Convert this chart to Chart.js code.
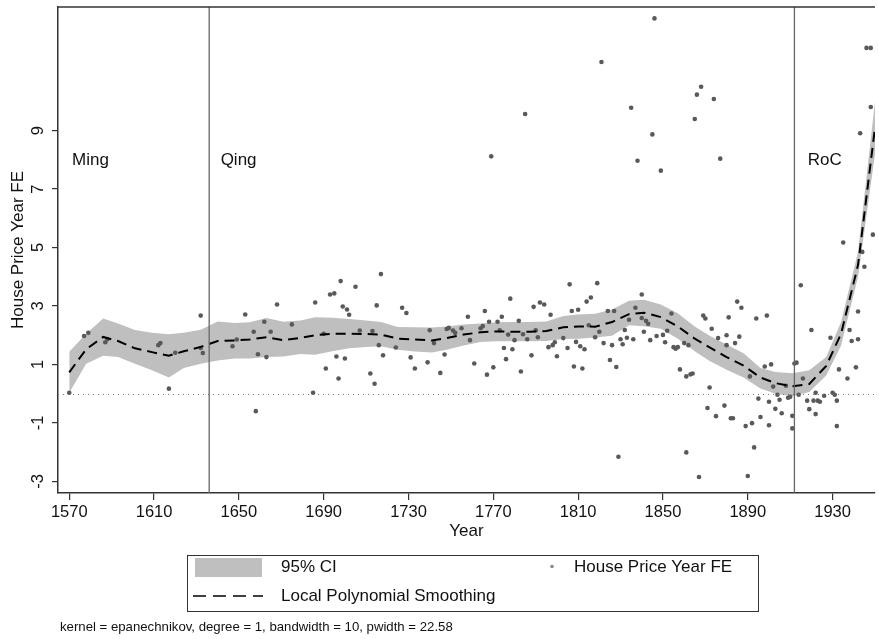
<!DOCTYPE html>
<html>
<head>
<meta charset="utf-8">
<script src="https://cdn.jsdelivr.net/npm/chart.js@4/dist/chart.umd.min.js"></script>
<style>
  html, body { margin: 0; padding: 0; background: #fff; }
  canvas { display: block; }
</style>
</head>
<body>
<canvas id="chart" width="879" height="639"></canvas>
<script>
// tick labels
const xTicks = [1570, 1610, 1650, 1690, 1730, 1770, 1810, 1850, 1890, 1930];
const yTicks = [-3, -1, 1, 3, 5, 7, 9];

// dynasty boundaries and labels
const eraBreaks = [1636, 1912];
const eraNames = ['Ming', 'Qing', 'RoC'];
const eraLabelYears = [1571.3, 1641.4, 1918.3];
const eraLabelValue = 7.97;

// local polynomial fit, evaluated on its grid
const gridYears = [1570,1578,1586,1593,1601,1609,1617,1624,1632,1640,1648,1655,1663,1671,1679,1686,1694,1702,1710,1717,
  1725,1733,1741,1748,1756,1764,1772,1779,1787,1795,1803,1810,1818,1826,1834,1841,1849,1857,1865,1872,
  1880,1888,1896,1903,1911,1919,1927,1934,1942,1950];
const smoothFE = [0.73,1.52,1.94,1.80,1.55,1.42,1.30,1.45,1.60,1.80,1.82,1.85,1.93,1.83,1.91,2.00,2.05,2.05,2.04,2.02,
  1.88,1.85,1.82,1.90,2.02,2.10,2.13,2.12,2.12,2.14,2.27,2.30,2.29,2.45,2.72,2.77,2.62,2.30,1.88,1.58,
  1.25,0.96,0.55,0.36,0.25,0.33,0.95,2.05,4.40,9.10];
const ciLow = [0.03,1.02,1.30,1.25,1.02,0.80,0.55,0.88,1.02,1.13,1.20,1.20,1.25,1.27,1.36,1.33,1.45,1.55,1.60,1.62,
  1.50,1.44,1.41,1.50,1.65,1.77,1.79,1.79,1.79,1.80,1.87,1.88,1.92,1.98,2.34,2.31,2.22,1.88,1.45,1.12,
  0.82,0.55,0.18,0.00,-0.09,0.06,0.62,1.65,4.00,8.20];
const ciHigh = [1.43,2.05,2.57,2.40,2.18,2.08,2.03,2.08,2.19,2.47,2.42,2.44,2.59,2.46,2.50,2.61,2.60,2.55,2.50,2.45,
  2.28,2.27,2.26,2.30,2.37,2.40,2.44,2.45,2.45,2.47,2.66,2.71,2.73,2.88,3.18,3.21,3.05,2.75,2.30,1.98,
  1.68,1.38,0.88,0.74,0.70,0.80,1.25,2.45,4.85,10.00];

// house price year fixed effects (scatter)
const fixedEffectYears = [
  1570,1577,1579,1587,1588,1612,1613,1617,1620,1632,1632,1633,1647,1649,1653,1657,1658,1659,1662,1663,1665,1668,1675,
  1686,1685,1691,1690,1693,1695,1698,1696,1697,1700,1699,1701,1702,1705,1707,1712,1713,1714,1715,1716,1717,1718,
  1724,1727,1729,1731,1733,1739,1740,1742,1745,1747,1748,1749,1751,1752,1755,1758,1759,1761,1764,1765,1766,1767,1768,
  1770,1772,1773,1774,1775,1776,1777,1778,1779,1780,1782,1783,1784,1786,1788,1789,1790,1791,1792,1794,1796,1797,1798,
  1799,1800,1803,1805,1806,1807,1808,1809,1810,1811,1812,1813,1814,1815,1816,1818,1819,
  1820,1822,1824,1827,1825,1826,1828,1829,1830,1831,1832,1833,1834,1836,1837,1840,1840,1841,1842,1843,1844,1847,1850,
  1851,1852,1854,1855,1856,1857,1858,1860,1861,1861,1862,1863,1864,1867,1869,1870,1871,1872,1873,1875,1876,1879,1880,
  1880,1881,1882,1883,1884,1885,1886,1887,1889,1890,1891,1892,1893,1894,1895,1896,1898,1899,1900,1900,1901,1902,1903,
  1904,1905,1906,1908,1909,1910,1911,1911,1912,1913,1914,1915,1916,1918,1919,1920,1921,1922,1922,1923,1924,1926,1929,
  1930,1931,1932,1932,1933,1937,1938,1939,1941,1942,1942,1944,1945,
  1769,1785,1821,1835,1846,1845,1838,1849,1865,1866,1868,1874,1877,1946,1948,1948,1943,1935,1949];
const fixedEffectValues = [
  0.03,1.97,2.08,1.76,1.86,1.66,1.73,0.17,1.40,2.67,1.56,1.39,1.62,1.85,2.71,2.12,-0.60,1.35,2.46,1.25,2.12,3.05,2.37,
  3.12,0.03,0.86,2.05,3.39,3.43,3.85,1.27,0.52,1.20,2.98,2.88,2.70,3.66,2.16,0.69,2.14,0.34,3.02,1.66,4.09,1.31,
  1.58,2.94,2.76,1.24,0.86,1.07,2.17,1.73,0.71,1.34,2.21,2.25,2.16,2.08,2.24,2.63,1.83,1.03,2.24,2.31,2.83,0.65,2.46,
  0.90,2.46,2.17,2.63,1.56,1.18,2.02,3.25,1.52,1.83,2.49,0.76,2.03,1.86,1.31,2.97,2.17,1.93,3.12,3.05,1.59,2.70,1.66,
  1.76,1.28,1.90,1.56,3.74,2.83,0.93,1.77,2.87,1.62,0.86,1.52,3.15,2.34,3.29,1.93,3.78,
  2.12,1.73,2.83,2.83,1.15,1.66,0.91,-2.16,1.86,1.69,2.18,1.91,2.53,1.86,2.94,3.39,2.59,2.12,2.49,2.39,1.83,1.97,2.01,
  1.76,2.15,2.74,1.59,1.54,1.59,0.83,1.73,-2.01,0.59,1.66,0.66,0.69,-2.85,2.67,2.57,-0.49,0.21,2.22,-0.77,1.90,-0.41,1.66,
  2.00,2.61,-0.84,-0.84,1.73,3.15,1.95,2.94,-1.11,-2.82,0.59,-1.01,-1.84,2.57,-0.17,-0.80,0.93,2.67,-1.08,-0.28,1.00,0.24,-0.52,
  -0.04,-0.21,-0.67,0.27,-0.14,-0.11,-0.76,-1.19,1.03,1.06,-0.04,3.71,0.52,-0.24,-0.53,2.18,-0.24,-0.70,0.03,-0.24,-0.28,-0.07,1.91,
  0.03,-0.04,-0.24,-1.11,0.83,0.52,2.18,1.80,0.90,1.86,2.81,4.85,4.34,
  8.12,9.57,11.35,9.78,12.84,8.87,7.97,7.63,9.40,10.23,10.50,10.08,8.04,11.83,11.83,9.81,8.91,5.17,5.44];

const noteText = 'kernel = epanechnikov, degree = 1, bandwidth = 10, pwidth = 22.58';

const FONT = '"Liberation Sans", Arial, Helvetica, sans-serif';
const axisFont = {family: FONT, size: 16.5};
const BAND = '#bfbfbf';
const DOT = '#595959';

function xy(xs, ys){ return xs.map((x, i) => ({x: x, y: ys[i]})); }

// extra drawing: frame top, era lines, zero line, rotated y labels, legend, note
const decor = {
  id: 'decor',
  afterDatasetsDraw(chart){
    const {ctx, chartArea: a, scales: {x, y}} = chart;
    ctx.save();
    // zero reference line
    ctx.strokeStyle = '#777';
    ctx.lineWidth = 1;
    ctx.setLineDash([1, 4]);
    const y0 = Math.round(y.getPixelForValue(0)) + 0.5;
    ctx.beginPath(); ctx.moveTo(a.left, y0); ctx.lineTo(a.right, y0); ctx.stroke();
    ctx.setLineDash([]);
    // era boundaries
    ctx.strokeStyle = '#666';
    ctx.lineWidth = 1.3;
    eraBreaks.forEach(yr => {
      const px = x.getPixelForValue(yr);
      ctx.beginPath(); ctx.moveTo(px, a.top); ctx.lineTo(px, a.bottom); ctx.stroke();
    });
    // top frame
    ctx.strokeStyle = '#333';
    ctx.lineWidth = 1.5;
    ctx.beginPath(); ctx.moveTo(a.left, a.top); ctx.lineTo(a.right, a.top); ctx.stroke();
    // era names
    ctx.fillStyle = '#111';
    ctx.font = '17px ' + FONT;
    ctx.textBaseline = 'middle';
    ctx.textAlign = 'left';
    eraNames.forEach((n, i) => {
      ctx.fillText(n, x.getPixelForValue(eraLabelYears[i]), y.getPixelForValue(eraLabelValue));
    });
    ctx.restore();
  },
  afterDraw(chart){
    const {ctx, scales: {y}} = chart;
    ctx.save();
    // y tick labels, rotated like Stata
    ctx.fillStyle = '#111';
    ctx.font = '16.5px ' + FONT;
    ctx.textAlign = 'center';
    ctx.textBaseline = 'middle';
    yTicks.forEach(v => {
      ctx.save();
      ctx.translate(38, y.getPixelForValue(v));
      ctx.rotate(-Math.PI / 2);
      ctx.fillText(String(v), 0, 0);
      ctx.restore();
    });
    // legend
    ctx.strokeStyle = '#333';
    ctx.lineWidth = 1;
    ctx.strokeRect(187.5, 555.5, 571, 56);
    ctx.fillStyle = BAND;
    ctx.fillRect(195, 558, 67, 19);
    ctx.fillStyle = '#111';
    ctx.font = '17px ' + FONT;
    ctx.textAlign = 'left';
    ctx.fillText('95% CI', 281, 567.5);
    ctx.fillText('House Price Year FE', 574, 567.5);
    ctx.fillText('Local Polynomial Smoothing', 281, 596.5);
    ctx.fillStyle = '#888';
    ctx.beginPath(); ctx.arc(552, 566.5, 1.8, 0, Math.PI * 2); ctx.fill();
    ctx.strokeStyle = '#000';
    ctx.lineWidth = 1.5;
    ctx.setLineDash([13, 7]);
    ctx.beginPath(); ctx.moveTo(193, 596); ctx.lineTo(263, 596); ctx.stroke();
    ctx.setLineDash([]);
    // note
    ctx.fillStyle = '#111';
    ctx.font = '13.2px ' + FONT;
    ctx.fillText(noteText, 60, 627);
    ctx.restore();
  }
};

new Chart(document.getElementById('chart').getContext('2d'), {
  type: 'scatter',
  data: {
    datasets: [
      {type: 'line', label: 'ci low', data: xy(gridYears, ciLow), borderWidth: 0, pointRadius: 0, fill: false, order: 4},
      {type: 'line', label: '95% CI', data: xy(gridYears, ciHigh), borderWidth: 0, pointRadius: 0,
        fill: '-1', backgroundColor: BAND, order: 3},
      {label: 'House Price Year FE', data: xy(fixedEffectYears, fixedEffectValues), pointRadius: 2.3,
        backgroundColor: DOT, borderWidth: 0, order: 2},
      {type: 'line', label: 'Local Polynomial Smoothing', data: xy(gridYears, smoothFE), borderColor: '#000',
        borderWidth: 2, borderDash: [10, 6], pointRadius: 0, fill: false, order: 1}
    ]
  },
  options: {
    responsive: false,
    animation: false,
    layout: {padding: {top: 7, right: 0, bottom: 94, left: 0}},
    plugins: {legend: {display: false}, tooltip: {enabled: false}},
    scales: {
      x: {
        type: 'linear', min: 1564.7, max: 1950,
        afterBuildTicks: s => { s.ticks = xTicks.map(v => ({value: v})); },
        afterFit: s => { s.height = 52; },
        ticks: {font: axisFont, color: '#111', padding: 3, maxRotation: 0, callback: v => String(v)},
        grid: {drawOnChartArea: false, tickLength: 7, color: '#333', lineWidth: 1.2},
        border: {color: '#333', width: 1.5},
        title: {display: true, text: 'Year', font: {family: FONT, size: 17, lineHeight: 1.2}, color: '#111', padding: {top: 0, bottom: 3}}
      },
      y: {
        type: 'linear', min: -3.4, max: 13.23,
        afterBuildTicks: s => { s.ticks = yTicks.map(v => ({value: v})); },
        afterFit: s => { s.width = 58; },
        ticks: {display: false},
        grid: {drawOnChartArea: false, tickLength: 6, color: '#333', lineWidth: 1.2},
        border: {color: '#333', width: 1.5},
        title: {display: true, text: 'House Price Year FE', font: {family: FONT, size: 17, lineHeight: 1.2}, color: '#111', padding: {top: 8, bottom: 0}}
      }
    }
  },
  plugins: [decor]
});
</script>
</body>
</html>
